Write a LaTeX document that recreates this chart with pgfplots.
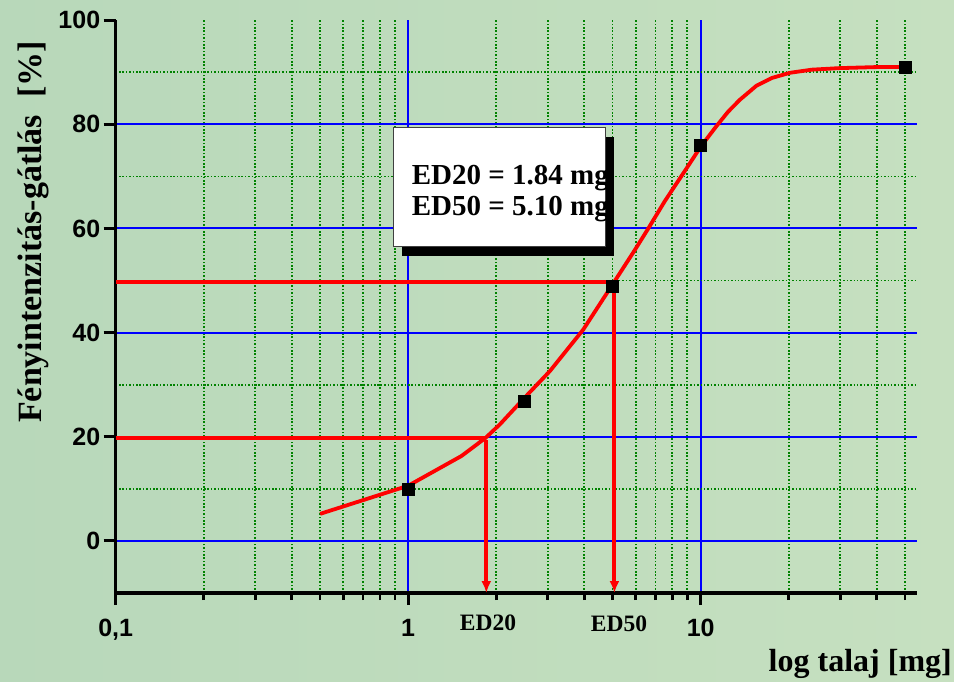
\documentclass[border=0pt]{standalone}
\usepackage{fontspec}
\setmainfont{Liberation Serif}
\setsansfont{Liberation Sans}
\usepackage{pgfplots}
\pgfplotsset{compat=1.18}
\usetikzlibrary{arrows.meta}
\definecolor{gridblue}{RGB}{0,0,255}
\definecolor{gridgreen}{RGB}{0,130,0}
\definecolor{bgA}{RGB}{184,216,186}
\definecolor{bgB}{RGB}{208,217,180}
\definecolor{bgC}{RGB}{198,224,192}
\begin{document}
\begin{tikzpicture}
\useasboundingbox (0,0) rectangle (954pt,681pt);
\clip (0,0) rectangle (954pt,681pt);
\shade[left color=bgA, middle color=bgB, right color=bgC] (0,0) rectangle (954pt,681pt);

% grid-only axis
\begin{axis}[
  at={(115.7pt,88pt)}, anchor=south west, scale only axis,
  width=801.3pt, height=572.8pt,
  xmode=log, xmin=0.1, xmax=54.9, ymin=-10, ymax=100,
  xtick={0.1,1,10},
  minor xtick={0.2,0.3,0.4,0.5,0.6,0.7,0.8,0.9,2,3,4,5,6,7,8,9,20,30,40,50},
  ytick={0,20,40,60,80},
  minor ytick={10,30,50,70,90},
  xmajorgrids, xminorgrids, ymajorgrids, yminorgrids,
  major grid style={gridblue, line width=2pt},
  minor grid style={gridgreen, line width=1.7pt, dash pattern=on 1.5pt off 1.9pt},
  xticklabels={}, yticklabels={},
  major tick length=0pt, minor tick length=0pt,
  axis line style={draw=none},
]
\addplot[draw=none] coordinates {(1,0)};
\end{axis}

% main axis
\begin{axis}[
  at={(115.7pt,88pt)}, anchor=south west, scale only axis,
  width=801.3pt, height=572.8pt,
  xmode=log, xmin=0.1, xmax=54.9, ymin=-10, ymax=100,
  clip=false,
  axis x line*=bottom, axis y line*=left,
  every outer x axis line/.append style={-},
  every outer y axis line/.append style={-},
  axis line style={line width=3.6pt, black, -},
  xtick={0.1,1,10}, xticklabels={{0,1},1,10},
  minor xtick={0.2,0.3,0.4,0.5,0.6,0.7,0.8,0.9,2,3,4,5,6,7,8,9,20,30,40,50},
  ytick={0,20,40,60,80,100},
  tick align=outside,
  major tick length=12pt, minor tick length=7pt,
  major tick style={line width=3pt, black},
  minor tick style={line width=2.6pt, black},
  tick label style={font=\fontsize{25}{25}\selectfont\sffamily\bfseries},
  xticklabel style={yshift=-11pt},
  /pgf/number format/assume math mode=true,
]
\addplot[red, line width=3.8pt] coordinates {(0.1,19.7) (1.85,19.7)};
\addplot[red, line width=3.8pt] coordinates {(0.1,49.7) (5.07,49.7)};
\addplot[red, line width=3.8pt, -{Latex[length=12pt,width=10pt]}] coordinates {(1.85,19.3) (1.85,-10)};
\addplot[red, line width=3.8pt, -{Latex[length=12pt,width=10pt]}] coordinates {(5.07,49.3) (5.07,-10)};
\addplot[only marks, mark=square*, mark size=6pt, black] coordinates {
  (1,10) (2.5,26.8) (5,49) (10,75.9) (50,91)};
\addplot[red, line width=3.8pt, line join=round] coordinates {
  (0.5,5.2) (1.0,10.6) (1.52,16.3) (1.84,19.8) (2.06,22.4) (2.51,27.6)
  (3.05,32.6) (3.97,40.6) (5.03,49.5) (5.96,55.9) (6.62,60.0) (7.55,65.3)
  (8.96,71.6) (10,75.7) (11.3,79.6) (12.4,82.4) (13.6,84.7) (15.5,87.4)
  (17.5,88.9) (20.2,89.9) (24,90.5) (29.9,90.8) (40,91) (50,91)};
\end{axis}

% labels
\node[anchor=base, font=\fontsize{23.5}{24}\selectfont\bfseries, inner sep=0] at (488pt,51pt) {ED20};
\node[anchor=base, font=\fontsize{23.5}{24}\selectfont\bfseries, inner sep=0] at (619pt,49.5pt) {ED50};
\node[anchor=base east, font=\fontsize{32}{32}\selectfont\bfseries, inner sep=0] at (952pt,9.3pt) {log talaj [mg]};
\node[rotate=90, anchor=base west, font=\fontsize{34}{34}\selectfont\bfseries, inner sep=0] at (41.7pt,258pt) {Fényintenzitás-gátlás\ \ [\%]};

% annotation box
\fill[black] (401.7pt,425pt) rectangle (614.3pt,544.3pt);
\draw[fill=white, draw=black!75, line width=0.8pt] (393.3pt,434.3pt) rectangle (605pt,553.7pt);
\begin{scope}
\clip (393.3pt,434.3pt) rectangle (605pt,553.7pt);
\node[anchor=base west, inner sep=0, font=\fontsize{29}{29}\selectfont\bfseries] at (411.7pt,496pt) {ED20 = 1.84 mg};
\node[anchor=base west, inner sep=0, font=\fontsize{29}{29}\selectfont\bfseries] at (411.7pt,465pt) {ED50 = 5.10 mg};
\end{scope}
\end{tikzpicture}
\end{document}
